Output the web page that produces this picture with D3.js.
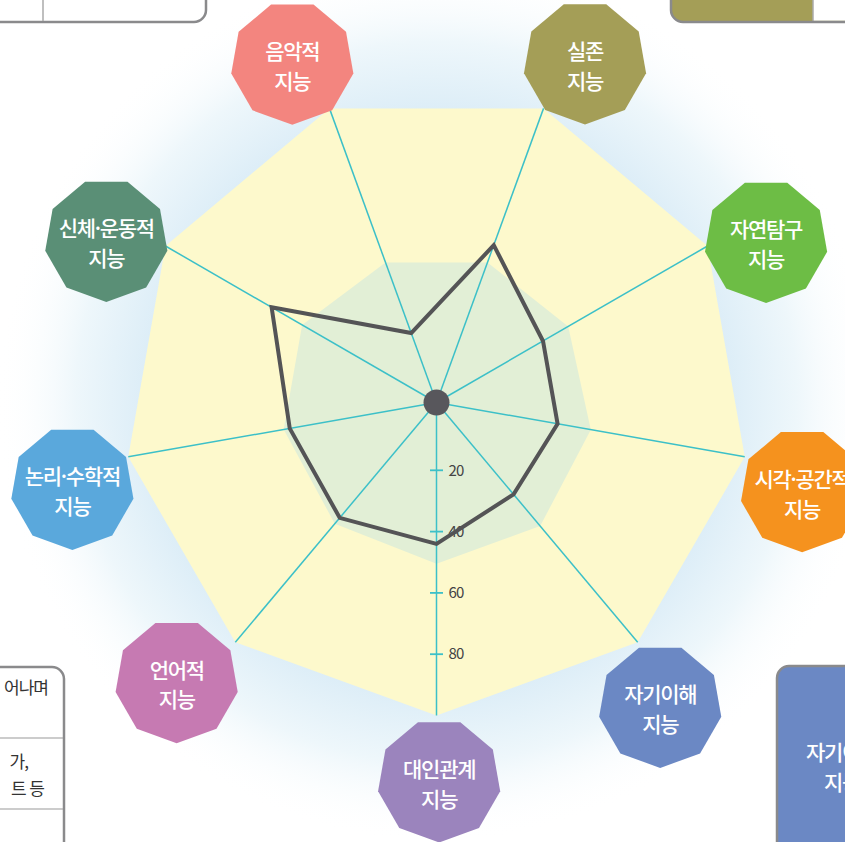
<!DOCTYPE html>
<html lang="ko">
<head>
<meta charset="UTF-8">
<title>다중지능 레이더 차트</title>
<script src="https://d3js.org/d3.v7.min.js"></script>
<style>
  html, body { margin: 0; padding: 0; background: #fff; }
  svg { display: block; }
  text { font-family: "Noto Sans CJK KR", "Noto Sans", sans-serif; }
</style>
</head>
<body>
<svg id="chart" width="845" height="842"></svg>
<script>
// 축 이름 (위 왼쪽부터 시계방향)
const axes = ["음악적", "실존", "자연탐구", "시각·공간적", "자기이해", "대인관계", "언어적", "논리·수학적", "신체·운동적"];
const scores = [22, 52.5, 38, 38, 37, 44, 47, 46.5, 60];      // 진한 선
const band = [46.5, 46.5, 47.5, 49, 50.5, 50.5, 49.5, 48.5, 48.5]; // 연두색 영역
const ticks = [20, 40, 60, 80];
const colors = ["#f3857f", "#a49e57", "#6dbd45", "#f5921e", "#6b88c4", "#9b84bd", "#c67ab2", "#5aa8dc", "#5a8f76"];

// 배지 위치 보정 (각도 이동, 거리)
const badgeShift = [-3, 3.6, 3.9, 3.5, 3.6, -0.4, 3, -3.2, -3.8];
const badgeDist = [369, 371, 367, 376, 377, 378, 381, 374, 368];

const cx = 436.5, cy = 402.5;
const svg = d3.select("#chart");
const defs = svg.append("defs");

const r = d3.scaleLinear().domain([0, 100]).range([6.5, 313]);
const ang = i => (-20 + 40 * i) * Math.PI / 180;

const g = svg.append("g").attr("transform", `translate(${cx},${cy})`);

// 바깥 번짐
const grad = defs.append("radialGradient").attr("id", "glow")
  .attr("gradientUnits", "userSpaceOnUse")
  .attr("cx", 0).attr("cy", 0).attr("r", 440);
grad.append("stop").attr("offset", 0.66).attr("stop-color", "#dcedf7");
grad.append("stop").attr("offset", 0.82).attr("stop-color", "#eef7fb");
grad.append("stop").attr("offset", 1).attr("stop-color", "#ffffff").attr("stop-opacity", 0);
g.append("circle").attr("r", 440).attr("fill", "url(#glow)");

const radial = d3.lineRadial()
  .angle((d, i) => ang(i))
  .radius(d => r(d))
  .curve(d3.curveLinearClosed);

// 바깥 구각형
g.append("path")
  .attr("d", radial(axes.map(() => 100)))
  .attr("fill", "#fdf9cc");

// 연두색 영역
g.append("path")
  .attr("d", radial(band))
  .attr("fill", "#e2efd6");

// 축선
g.selectAll(".axis").data(axes).enter().append("line")
  .attr("x1", 0).attr("y1", 0)
  .attr("x2", (d, i) => r(100) * Math.sin(ang(i)))
  .attr("y2", (d, i) => -r(100) * Math.cos(ang(i)))
  .attr("stroke", "#3cc0c8").attr("stroke-width", 1.5);

// 눈금 (아래 축)
const tk = g.selectAll(".tick").data(ticks).enter().append("g")
  .attr("transform", d => `translate(0,${r(d)})`);
tk.append("line").attr("x1", -6.5).attr("x2", 6.5)
  .attr("stroke", "#3cc0c8").attr("stroke-width", 1.8);
tk.append("text").attr("x", 12).attr("dy", "0.35em")
  .attr("font-family", "Liberation Sans, Arial, sans-serif")
  .attr("font-size", 15).attr("fill", "#444").attr("letter-spacing", -0.8)
  .text(d => d);

// 점수 선
g.append("path")
  .attr("d", radial(scores))
  .attr("fill", "none").attr("stroke", "#545456")
  .attr("stroke-width", 4).attr("stroke-linejoin", "miter");

g.append("circle").attr("r", 13).attr("fill", "#58575c");

// 배지
const nonagon = d3.range(9).map(k => {
  const a = (90 + 40 * k) * Math.PI / 180;
  return [62 * Math.cos(a), 62 * Math.sin(a)];
});
const badge = g.selectAll(".badge").data(axes).enter().append("g")
  .attr("transform", (d, i) => {
    const a = ang(i) + badgeShift[i] * Math.PI / 180;
    return `translate(${badgeDist[i] * Math.sin(a)},${-badgeDist[i] * Math.cos(a)})`;
  });
badge.append("polygon")
  .attr("points", nonagon.map(p => p.join(",")).join(" "))
  .attr("fill", (d, i) => colors[i]);
badge.append("text").attr("text-anchor", "middle").attr("y", -11).attr("dy", "0.35em")
  .attr("font-size", 21).attr("font-weight", 500).attr("fill", "#fff").attr("letter-spacing", -1.3)
  .text(d => d);
badge.append("text").attr("text-anchor", "middle").attr("y", 19).attr("dy", "0.35em")
  .attr("font-size", 21).attr("font-weight", 500).attr("fill", "#fff").attr("letter-spacing", -1.3)
  .text("지능");

// 가장자리 상자들 (잘린 부분)
const box = svg.append("g");
box.append("rect").attr("x", -30).attr("y", -100).attr("width", 236).attr("height", 122).attr("rx", 12)
  .attr("fill", "#fff").attr("stroke", "#8a8a8c").attr("stroke-width", 2.5);
box.append("line").attr("x1", 43).attr("x2", 43).attr("y1", 0).attr("y2", 21)
  .attr("stroke", "#aaa").attr("stroke-width", 1.5);

box.append("rect").attr("x", 671).attr("y", -100).attr("width", 230).attr("height", 122).attr("rx", 12)
  .attr("fill", "#a49e57");
box.append("rect").attr("x", 813).attr("y", -100).attr("width", 100).attr("height", 120.8).attr("fill", "#fff");
box.append("line").attr("x1", 813).attr("x2", 813).attr("y1", 0).attr("y2", 21)
  .attr("stroke", "#aaa").attr("stroke-width", 1.5);
box.append("rect").attr("x", 671).attr("y", -100).attr("width", 230).attr("height", 122).attr("rx", 12)
  .attr("fill", "none").attr("stroke", "#8a8a8c").attr("stroke-width", 2.5);

box.append("rect").attr("x", -100).attr("y", 667).attr("width", 164).attr("height", 300).attr("rx", 12)
  .attr("fill", "#fff").attr("stroke", "#8a8a8c").attr("stroke-width", 2.5);
[738, 809].forEach(y => box.append("line").attr("x1", 0).attr("x2", 63).attr("y1", y).attr("y2", y)
  .attr("stroke", "#9a9a9a").attr("stroke-width", 1.2));
[["어나며", 48, 688], ["가,", 28, 762], ["트 등", 44, 789]].forEach(([t, x, y]) =>
  box.append("text").attr("x", x).attr("y", y).attr("dy", "0.35em").attr("text-anchor", "end")
    .attr("font-size", 17).attr("fill", "#333").attr("letter-spacing", -1).text(t));

box.append("rect").attr("x", 777).attr("y", 666).attr("width", 150).attr("height", 250).attr("rx", 12)
  .attr("fill", "#6b88c4").attr("stroke", "#8a8a8c").attr("stroke-width", 2.5);
[["자기이해", 753], ["지능", 783]].forEach(([t, y]) =>
  box.append("text").attr("x", 842).attr("y", y).attr("dy", "0.35em").attr("text-anchor", "middle")
    .attr("font-size", 21).attr("font-weight", 500).attr("fill", "#fff").attr("letter-spacing", -1.3).text(t));
</script>
</body>
</html>
